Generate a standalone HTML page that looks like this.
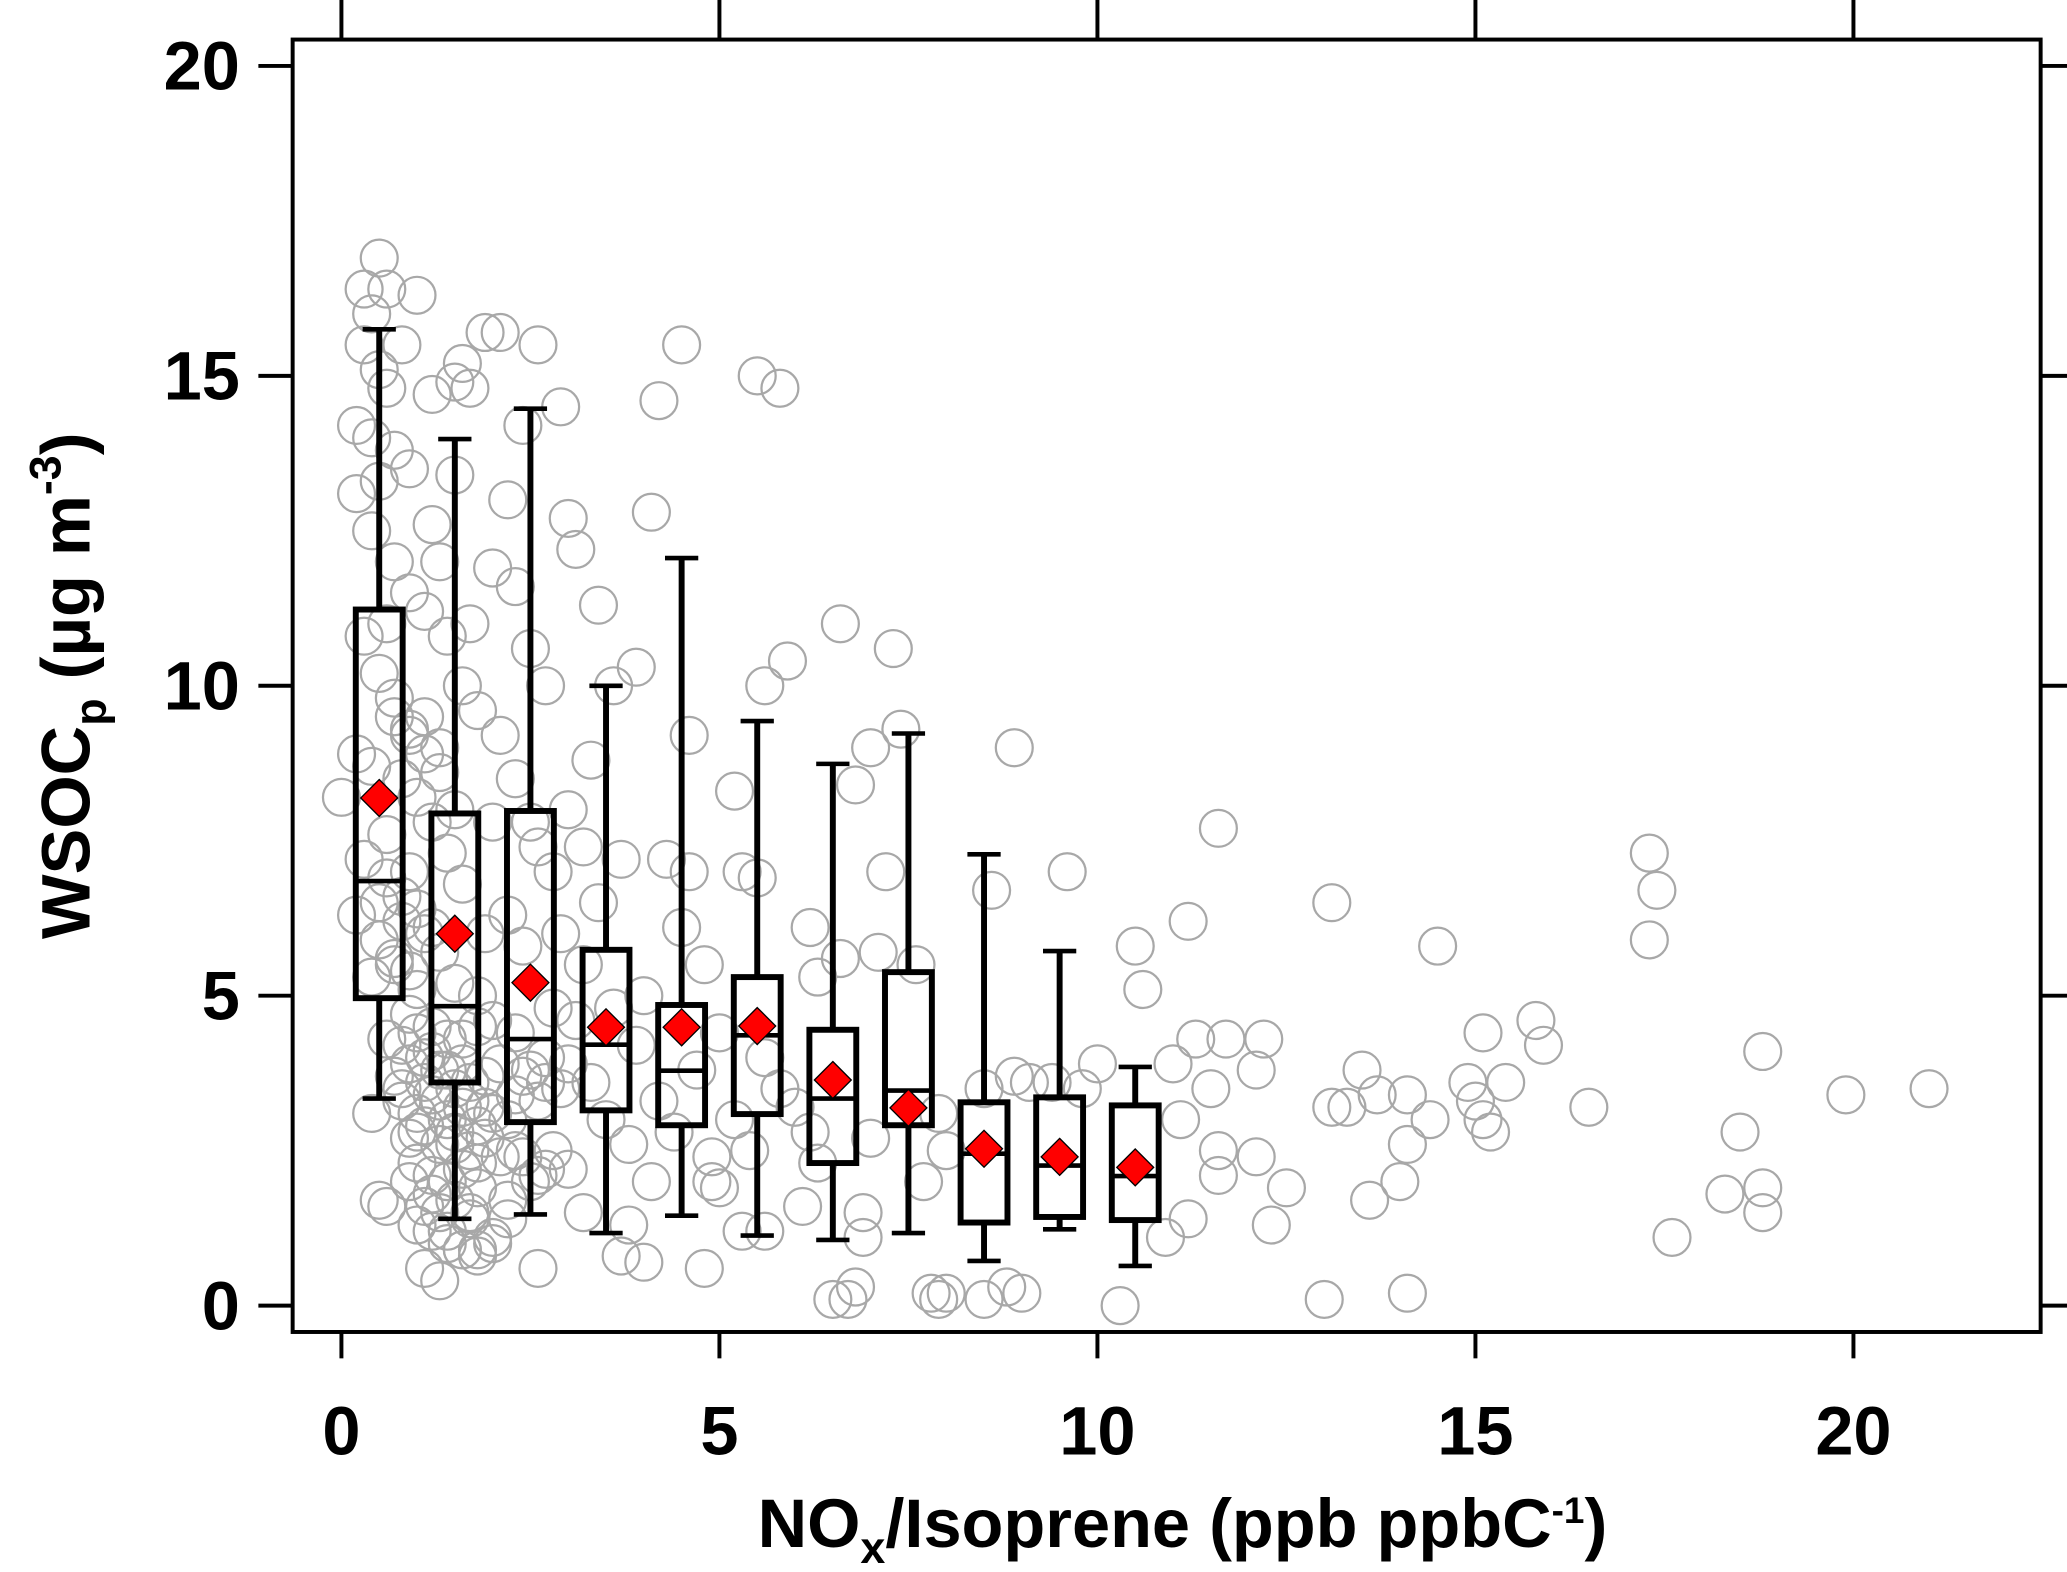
<!DOCTYPE html>
<html><head><meta charset="utf-8"><style>
html,body{margin:0;padding:0;background:#fff;}
svg{display:block;}
text{font-family:"Liberation Sans",Arial,sans-serif;font-weight:bold;fill:#000;}
</style></head>
<body>
<svg id="chart" width="2067" height="1572" viewBox="0 0 1568 1192" preserveAspectRatio="none" xmlns="http://www.w3.org/2000/svg">
<g id="scatter"></g>
<g id="boxes"></g>
<g id="axes"></g>
<rect x="222" y="30" width="1326" height="980" fill="none" stroke="#000" stroke-width="3"/>
<text x="897" y="1173" font-size="52" text-anchor="middle">NO<tspan font-size="34" dy="12">x</tspan><tspan dy="-12">/Isoprene (ppb ppbC</tspan><tspan font-size="28" dy="-18">-1</tspan><tspan dy="18">)</tspan></text>
<text transform="translate(68,520) rotate(-90)" font-size="52" text-anchor="middle">WSOC<tspan font-size="34" dy="12">p</tspan><tspan dy="-12"> (µg m</tspan><tspan font-size="34" dy="-22">-3</tspan><tspan dy="22">)</tspan></text>
</svg>
<script>
const xTicks=[0,5,10,15,20];
const yTicks=[0,5,10,15,20];
const binCenters=[0.5,1.5,2.5,3.5,4.5,5.5,6.5,7.5,8.5,9.5,10.5];
const whiskerHigh=[15.75,13.98,14.47,10.0,12.06,9.43,8.74,9.23,7.28,5.72,3.85];
const q3=[11.23,7.94,7.98,5.74,4.85,5.3,4.45,5.38,3.28,3.36,3.23];
const medians=[6.85,4.83,4.3,4.21,3.79,4.36,3.34,3.47,2.45,2.26,2.09];
const q1=[4.96,3.6,2.96,3.15,2.91,3.09,2.3,2.91,1.34,1.43,1.38];
const whiskerLow=[3.34,1.4,1.47,1.17,1.45,1.13,1.06,1.17,0.72,1.23,0.64];
const means=[8.19,6.0,5.21,4.49,4.49,4.51,3.64,3.19,2.53,2.4,2.23];
const pointsX=[0.5,0.3,0.6,0.4,0.3,0.5,0.2,0.6,0.4,0.7,0.2,0.5,1.0,0.8,1.2,1.5,1.7,1.6,1.9,2.1,2.6,2.4,2.9,2.2,1.5,1.2,3.0,3.1,3.4,2.0,2.3,2.5,2.7,3.6,3.9,4.1,4.2,4.5,5.5,5.8,5.2,5.6,5.9,6.6,7.3,7.0,6.8,7.2,7.4,8.9,8.6,9.6,10.5,10.6,11.2,11.6,13.1,14.5,15.1,15.8,15.9,17.3,17.4,17.3,11.3,11.7,12.2,12.1,11.5,11.0,11.1,11.6,11.6,12.1,12.5,12.3,11.2,10.9,13.1,13.3,13.5,13.7,14.1,14.1,14.4,14.0,13.6,14.9,15.0,15.1,15.2,15.4,16.5,18.3,18.5,18.8,18.8,18.8,19.9,21.0,17.6,13.0,14.1,10.3,9.0,8.8,8.5,8.0,7.8,7.9,6.8,6.5,6.7,6.9,6.9,4.8,4.0,3.7,2.6,1.1,1.3,9.1,9.4,10.0,9.8,8.9,8.5,7.9,8.0,7.7,7.0,6.2,6.3,6.1,6.6,7.6,6.2,6.3,7.1,0.0,0.4,1.8,5.3,5.5,4.3,4.6,4.8,5.0,3.2,3.0,3.3,3.7,4.6,4.5,5.3,5.6,5.0,4.9,4.1,3.8,3.2,3.0,2.8,0.3,0.5,0.7,0.9,1.1,1.3,0.4,0.8,1.0,1.2,0.6,0.3,0.9,1.4,1.6,0.5,0.2,0.8,1.1,1.3,0.7,0.4,1.0,1.5,1.8,0.9,1.2,1.6,2.0,2.3,0.6,1.1,1.4,1.7,2.1,2.4,2.7,0.8,1.3,1.9,2.2,2.6,2.9,1.0,1.5,1.8,2.3,2.7,0.6,0.9,1.2,1.4,1.7,2.0,2.2,0.5,1.0,2.5,1.9,2.2,2.4,2.6,2.8,2.0,2.3,2.1,1.8,1.6,1.4,1.1,0.9,1.3,1.7,2.5,2.9,3.2,3.4,3.6,3.9,3.3,3.5,3.8,4.2,4.4,4.0,4.7,5.2,5.4,5.6,5.8,6.0,4.9,3.1,3.0,2.8,0.2,0.7,0.4,0.9,0.6,
0.8,1.0,1.2,1.4,1.6,1.8,0.7,0.9,1.1,1.3,1.5,1.7,1.9,0.8,1.0,1.2,1.4,1.6,1.8,2.0,0.9,1.1,1.3,1.5,1.7,1.9,2.1,1.0,1.2,1.4,1.6,1.8,1.1,1.3,1.5,1.7,1.2,1.4,1.6,0.7,0.9,1.1,1.3,1.5,0.6,0.8,1.0,1.2,0.5,0.7,0.9,2.3,2.5,2.7,2.4,2.6,2.2,2.0,1.8,1.6];
const pointsY=[16.9,16.4,16.4,16.0,15.5,15.1,14.2,14.8,14.0,13.8,13.1,13.3,16.3,15.5,14.7,14.9,14.8,15.2,15.7,15.7,15.5,14.2,14.5,13.0,13.4,12.6,12.7,12.2,11.3,11.9,11.6,10.6,10.0,10.0,10.3,12.8,14.6,15.5,15.0,14.8,8.3,10.0,10.4,11.0,10.6,9.0,8.4,7.0,9.3,9.0,6.7,7.0,5.8,5.1,6.2,7.7,6.5,5.8,4.4,4.6,4.2,7.3,6.7,5.9,4.3,4.3,4.3,3.8,3.5,3.9,3.0,2.5,2.1,2.4,1.9,1.3,1.4,1.1,3.2,3.2,3.8,3.4,3.4,2.6,3.0,2.0,1.7,3.6,3.3,3.0,2.8,3.6,3.2,1.8,2.8,4.1,1.9,1.5,3.4,3.5,1.1,0.1,0.2,0.0,0.2,0.3,0.1,0.2,0.2,0.1,0.3,0.1,0.1,1.1,1.5,0.6,0.7,0.8,0.6,0.6,0.4,3.6,3.6,3.9,3.5,3.7,3.5,3.1,2.5,2.0,2.7,2.8,2.3,1.6,5.6,5.5,6.1,5.3,5.7,8.2,3.1,0.9,7.0,6.9,7.2,7.0,5.5,4.4,7.4,8.0,8.8,7.2,9.2,6.1,1.2,1.2,1.9,2.4,2.0,1.3,1.5,2.2,2.5,10.8,10.2,9.5,9.2,9.5,9.0,8.7,8.5,8.2,7.8,7.6,7.2,7.0,7.3,6.8,6.5,6.3,6.2,6.0,5.7,5.5,5.3,5.1,5.2,5.0,4.7,4.5,4.3,4.6,4.4,4.3,4.0,3.8,3.6,3.9,3.7,4.0,3.5,3.3,3.2,3.0,3.3,3.5,2.8,2.6,2.3,2.5,2.2,1.6,2.0,1.8,1.2,1.5,1.1,1.7,1.7,1.3,2.0,6.0,6.3,5.8,7.4,7.0,7.8,8.5,9.2,9.6,10.0,10.8,11.2,11.5,12.0,11.0,7.8,6.0,5.5,6.5,4.8,4.2,3.6,3.0,2.6,3.3,2.8,5.0,3.8,3.0,2.5,4.0,3.5,3.2,2.0,4.6,3.9,4.8,8.9,12.0,12.5,13.5,11.0,
4.2,4.4,4.1,4.3,3.9,4.5,3.7,3.9,3.6,3.8,3.5,3.3,3.7,3.3,3.1,3.4,3.0,3.2,2.9,3.1,2.7,2.9,2.6,2.8,2.5,2.7,2.4,2.3,2.1,2.0,2.2,1.9,1.6,1.5,1.7,1.4,1.2,1.0,0.9,9.8,9.3,8.9,8.6,8.0,6.9,6.6,6.4,6.1,5.9,5.6,5.4,3.4,3.8,3.6,2.4,2.1,1.4,1.0,0.8,0.9];

const NS='http://www.w3.org/2000/svg';
const X0=222,X1=1548,Y0=30,Y1=1010;
function sx(v){return 259+v*(1406-259)/20;}
function sy(v){return 990-v*(990-50)/20;}
function mk(parent,tag,attrs){const e=document.createElementNS(NS,tag);for(const k in attrs)e.setAttribute(k,attrs[k]);parent.appendChild(e);return e;}

const sc=document.getElementById('scatter');
for(let i=0;i<pointsX.length;i++){
  const c=mk(sc,'circle',{cx:sx(pointsX[i]),cy:sy(pointsY[i]),r:14,fill:'none',stroke:'#a8a8a8','stroke-width':1.7});
  
  
}

const bx=document.getElementById('boxes');
const hw=0.31, cap=0.22;
for(let i=0;i<binCenters.length;i++){
  const g=mk(bx,'g',{});
  
  
  const c=binCenters[i];
  mk(g,'line',{x1:sx(c),x2:sx(c),y1:sy(whiskerHigh[i]),y2:sy(q3[i]),stroke:'#000','stroke-width':4.5});
  mk(g,'line',{x1:sx(c),x2:sx(c),y1:sy(q1[i]),y2:sy(whiskerLow[i]),stroke:'#000','stroke-width':4.5});
  mk(g,'line',{x1:sx(c-cap),x2:sx(c+cap),y1:sy(whiskerHigh[i]),y2:sy(whiskerHigh[i]),stroke:'#000','stroke-width':3.5});
  mk(g,'line',{x1:sx(c-cap),x2:sx(c+cap),y1:sy(whiskerLow[i]),y2:sy(whiskerLow[i]),stroke:'#000','stroke-width':3.5});
  mk(g,'rect',{x:sx(c-hw),y:sy(q3[i]),width:sx(c+hw)-sx(c-hw),height:sy(q1[i])-sy(q3[i]),fill:'none',stroke:'#000','stroke-width':4.5});
  mk(g,'line',{x1:sx(c-hw),x2:sx(c+hw),y1:sy(medians[i]),y2:sy(medians[i]),stroke:'#000','stroke-width':3.5});
  const mx=sx(c),my=sy(means[i]),d=14;
  const m=mk(g,'polygon',{points:`${mx},${my-d} ${mx+d},${my} ${mx},${my+d} ${mx-d},${my}`,fill:'#ff0000',stroke:'#000','stroke-width':1});
  
  
}

const ax=document.getElementById('axes');
xTicks.forEach(v=>{
  const x=sx(v);
  mk(ax,'line',{x1:x,x2:x,y1:Y1,y2:Y1+20,stroke:'#000','stroke-width':3});
  mk(ax,'line',{x1:x,x2:x,y1:Y0,y2:Y0-30,stroke:'#000','stroke-width':3});
  const t=mk(ax,'text',{x:x,y:1103,'font-size':52,'text-anchor':'middle'});
  t.textContent=v;
  
  
});
yTicks.forEach(v=>{
  const y=sy(v);
  mk(ax,'line',{x1:X0,x2:X0-26,y1:y,y2:y,stroke:'#000','stroke-width':3});
  mk(ax,'line',{x1:X1,x2:X1+20,y1:y,y2:y,stroke:'#000','stroke-width':3});
  const t=mk(ax,'text',{x:182,y:y+18,'font-size':52,'text-anchor':'end'});
  t.textContent=v;
  
  
});
</script>
</body></html>
